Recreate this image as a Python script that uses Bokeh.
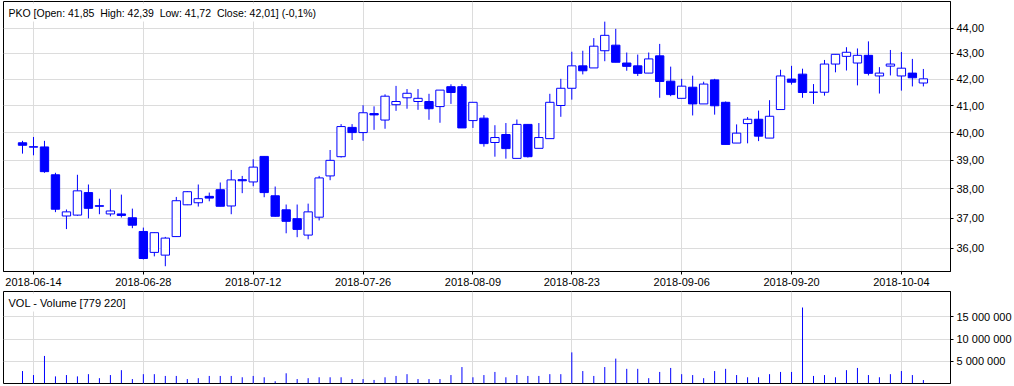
import pandas as pd
from bokeh.plotting import figure
from bokeh.models import Range1d, FixedTicker, Label
from bokeh.layouts import column
from bokeh.embed import file_html
from bokeh.resources import INLINE

# ---------------- data ----------------
holidays = ["2018-08-15"]
dates = [d.strftime("%Y-%m-%d") for d in pd.bdate_range("2018-06-13", "2018-10-08")
         if d.strftime("%Y-%m-%d") not in holidays]

tick_dates = ["2018-06-14", "2018-06-28", "2018-07-12", "2018-07-26", "2018-08-09",
              "2018-08-23", "2018-09-06", "2018-09-20", "2018-10-04"]

opens = [39.63, 39.47, 39.48, 38.49, 37.07, 37.10, 37.87, 37.42, 37.14, 37.14,
         37.01, 36.55, 35.86, 35.77, 36.38, 37.45, 37.52, 37.74, 37.97, 37.41,
         38.32, 38.24, 39.14, 37.76, 37.28, 36.98, 36.43, 37.03, 38.45, 39.13,
         40.19, 40.00, 40.70, 40.46, 41.03, 41.29, 41.15, 41.15, 40.96, 41.71,
         41.71, 40.44, 40.53, 39.64, 39.93, 39.07, 40.30, 39.43, 39.78, 41.00,
         41.65, 42.51, 42.43, 43.10, 43.32, 42.62, 42.51, 42.23, 42.90, 41.92,
         41.27, 41.69, 41.06, 41.97, 41.12, 39.62, 40.33, 40.49, 39.80, 40.85,
         42.00, 42.19, 41.50, 41.50, 42.58, 42.88, 42.62, 42.92, 42.12, 42.50,
         42.12, 42.23, 41.85]
highs = [39.70, 39.84, 39.70, 38.56, 37.29, 38.49, 38.15, 37.66, 37.98, 37.80,
         37.32, 36.68, 36.52, 36.37, 37.72, 37.92, 38.15, 37.87, 38.22, 38.66,
         38.45, 39.04, 39.14, 38.08, 37.46, 37.46, 37.49, 38.45, 39.37, 40.31,
         40.31, 41.01, 40.97, 41.42, 41.74, 41.62, 41.62, 41.44, 41.58, 41.80,
         41.81, 41.12, 40.64, 40.27, 40.35, 40.48, 40.30, 40.35, 41.44, 42.01,
         43.06, 43.10, 43.60, 44.26, 43.97, 43.03, 42.95, 43.03, 43.37, 42.48,
         42.01, 42.13, 41.90, 42.01, 41.15, 40.30, 40.57, 40.81, 41.20, 42.36,
         42.51, 42.40, 41.81, 42.74, 42.97, 43.24, 43.19, 43.47, 42.46, 43.13,
         43.05, 42.78, 42.39]
lows = [39.24, 39.18, 38.56, 37.20, 36.63, 37.08, 36.99, 37.13, 37.06, 37.02,
        36.66, 35.63, 35.73, 35.41, 36.37, 37.44, 37.39, 37.57, 37.40, 37.13,
        37.85, 38.09, 37.71, 37.05, 36.49, 36.36, 36.29, 36.92, 38.30, 39.10,
        39.73, 39.70, 40.10, 40.14, 40.80, 40.88, 40.84, 40.47, 40.36, 41.06,
        40.17, 40.17, 39.49, 39.13, 39.06, 39.07, 39.10, 39.43, 39.78, 40.58,
        41.22, 42.18, 42.43, 42.69, 42.65, 42.32, 42.12, 42.23, 41.29, 41.35,
        41.27, 40.63, 41.06, 40.66, 39.57, 39.62, 39.61, 39.69, 39.80, 40.85,
        41.79, 41.29, 41.06, 41.37, 42.26, 42.33, 41.76, 42.14, 41.45, 42.14,
        41.56, 41.72, 41.72]
closes = [39.54, 39.49, 38.60, 37.30, 37.21, 37.93, 37.33, 37.40, 37.24, 37.09,
          36.76, 35.66, 36.51, 36.33, 37.59, 37.90, 37.66, 37.68, 37.40, 38.31,
          38.28, 38.76, 37.87, 37.06, 36.89, 36.62, 37.21, 38.38, 39.00, 40.22,
          40.00, 40.73, 40.65, 41.35, 41.15, 41.46, 41.27, 40.88, 41.58, 41.49,
          40.17, 41.12, 39.60, 39.82, 39.42, 40.30, 39.13, 39.82, 41.12, 41.65,
          42.51, 42.32, 43.28, 43.71, 42.65, 42.49, 42.22, 42.78, 41.91, 41.41,
          41.73, 41.06, 41.81, 40.99, 39.57, 39.98, 40.49, 39.87, 40.60, 42.12,
          41.88, 41.49, 41.50, 42.58, 42.96, 43.04, 42.92, 42.22, 42.23, 42.58,
          42.42, 42.05, 42.01]
volumes = [2800000, 1900000, 6200000, 1600000, 1900000, 1600000, 2100000, 1200000, 1900000, 3000000,
           1000000, 2100000, 2100000, 1700000, 1700000, 1000000, 1200000, 1700000, 1700000, 1700000,
           1400000, 1700000, 1400000, 500000, 2300000, 1000000, 1200000, 1400000, 1400000, 1400000,
           1000000, 1000000, 800000, 1400000, 1700000, 2100000, 1000000, 1000000, 1000000, 1900000,
           3700000, 1400000, 1900000, 2600000, 1400000, 1900000, 1700000, 1700000, 2100000, 2100000,
           7000000, 2800000, 1700000, 3700000, 5600000, 3300000, 3300000, 1200000, 2600000, 3500000,
           2100000, 1900000, 1200000, 2800000, 3300000, 1900000, 1400000, 1400000, 2100000, 2600000,
           2600000, 17100000, 1700000, 1900000, 1400000, 3000000, 3500000, 1900000, 1400000, 2100000,
           2800000, 1900000, 779220]

price_ticks = [36, 37, 38, 39, 40, 41, 42, 43, 44]
vol_ticks = [5000000, 10000000, 15000000]

NB2 = "\u00a0\u00a0"
title_price = ("PKO [Open: 41,85" + NB2 + "High: 42,39" + NB2 + "Low: 41,72" + NB2 +
               "Close: 42,01] (-0,1%)")
title_vol = "VOL - Volume [779 220]"

# ---------------- derived ----------------
idx = list(range(len(dates)))
tick_idx = [dates.index(d) for d in tick_dates]
BLUE = "#0000FF"
GRID = "#DCDCDC"
FONT = "Liberation Sans"
FS = "11px"

body_top = [max(o, c) for o, c in zip(opens, closes)]
body_bot = [min(o, c) for o, c in zip(opens, closes)]
body_fill = ["white" if c >= o else BLUE for o, c in zip(opens, closes)]

xr = Range1d(-1.73, 84.47)


def style(fig):
    fig.outline_line_color = "black"
    fig.outline_line_width = 1
    fig.background_fill_color = "white"
    fig.border_fill_color = "white"
    for ax in fig.axis:
        ax.axis_line_color = "black"
        ax.major_tick_line_color = "black"
        ax.minor_tick_line_color = None
        ax.major_tick_in = 0
        ax.major_tick_out = 3
        ax.major_label_standoff = 3
        ax.major_label_text_font = FONT
        ax.major_label_text_font_size = FS
        ax.major_label_text_color = "black"
    fig.xgrid.grid_line_color = GRID
    fig.ygrid.grid_line_color = GRID
    fig.xgrid.ticker = FixedTicker(ticks=tick_idx)


# ---------------- price panel ----------------
p = figure(width=1014, height=290, x_range=xr, y_range=Range1d(35.24, 45.08),
           y_axis_type="log", y_axis_location="right",
           output_backend="svg", toolbar_location=None,
           min_border_left=3, min_border_right=62, min_border_top=1, min_border_bottom=19)
style(p)
p.xaxis.ticker = FixedTicker(ticks=tick_idx)
p.xaxis.major_label_overrides = {i: d for i, d in zip(tick_idx, tick_dates)}
p.yaxis.ticker = FixedTicker(ticks=price_ticks)
p.ygrid.ticker = FixedTicker(ticks=price_ticks)
p.yaxis.major_label_overrides = {t: f"{t},00" for t in price_ticks}

p.segment(x0=idx, y0=lows, x1=idx, y1=highs, line_color=BLUE, line_width=1)
p.vbar(x=idx, width=0.76, top=body_top, bottom=body_bot,
       fill_color=body_fill, line_color=BLUE, line_width=1)

p.add_layout(Label(x=-1.73, y=45.08, text=title_price, text_baseline="top",
                   x_offset=2, y_offset=-2, text_font=FONT, text_font_size="10.5px",
                   text_color="black", background_fill_color="white", padding=3))

# ---------------- volume panel ----------------
v = figure(width=1014, height=96, x_range=xr, y_range=Range1d(0, 20700000),
           y_axis_location="right", output_backend="svg", toolbar_location=None,
           min_border_left=3, min_border_right=62, min_border_top=1, min_border_bottom=3)
style(v)
v.xaxis.visible = False
v.yaxis.ticker = FixedTicker(ticks=vol_ticks)
v.ygrid.ticker = FixedTicker(ticks=vol_ticks)
v.yaxis.major_label_overrides = {t: f"{t:,}".replace(",", " ") for t in vol_ticks}

v.segment(x0=idx, y0=[0] * len(idx), x1=idx, y1=volumes, line_color=BLUE, line_width=1)

v.add_layout(Label(x=-1.73, y=20700000, text=title_vol, text_baseline="top",
                   x_offset=2, y_offset=-2, text_font=FONT, text_font_size=FS,
                   text_color="black", background_fill_color="white", padding=3))

layout = column(p, v, spacing=0)
open("out.html", "w").write(file_html(layout, INLINE))
